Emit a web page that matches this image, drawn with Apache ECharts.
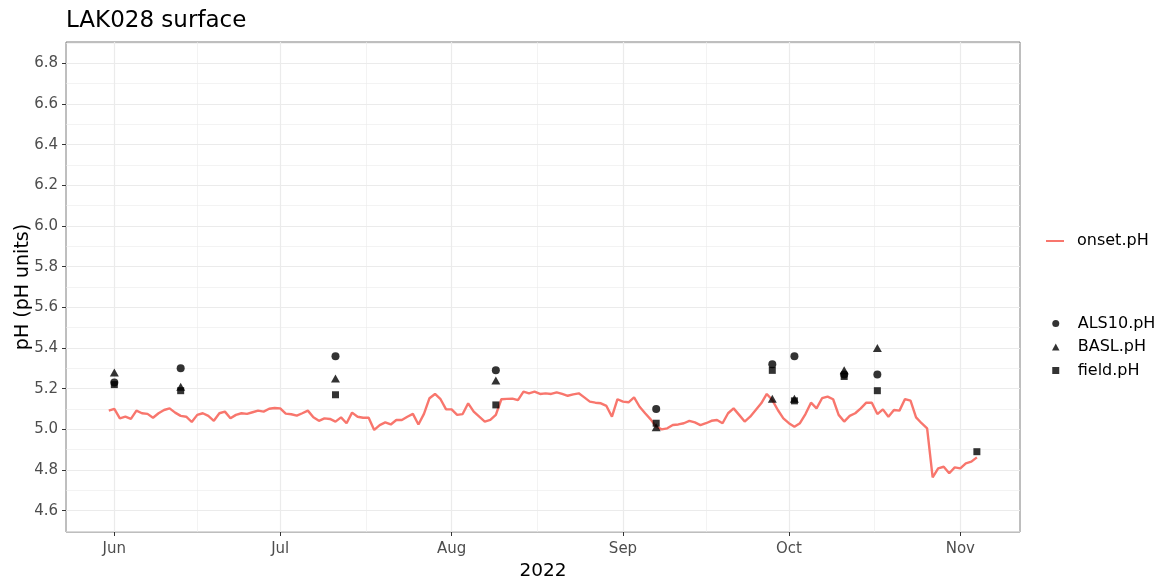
<!DOCTYPE html>
<html>
<head>
<meta charset="utf-8">
<title>LAK028 surface</title>
<script src="https://cdn.jsdelivr.net/npm/echarts@6/dist/echarts.min.js"></script>
<style>
  html, body { margin: 0; padding: 0; background: #ffffff; }
  #chart { width: 1165px; height: 579px; }
</style>
</head>
<body>
<div id="chart"></div>
<script>
// Continuous logger record (one value per day, starting 31 May 2022)
const onsetStart = '2022-05-31';
const onsetPH = [
  5.092,
  // June
  5.101, 5.054, 5.062, 5.051, 5.092, 5.079, 5.076, 5.057, 5.079, 5.095,
  5.103, 5.082, 5.066, 5.062, 5.036, 5.071, 5.079, 5.066, 5.042, 5.079,
  5.087, 5.054, 5.071, 5.079, 5.076, 5.084, 5.092, 5.087, 5.101, 5.105,
  // July
  5.103, 5.077, 5.074, 5.067, 5.079, 5.092, 5.059, 5.042, 5.054, 5.051,
  5.038, 5.059, 5.030, 5.082, 5.062, 5.057, 5.057, 4.997, 5.021, 5.034,
  5.024, 5.046, 5.046, 5.062, 5.076, 5.024, 5.076, 5.153, 5.174, 5.148, 5.098,
  // August
  5.098, 5.071, 5.075, 5.128, 5.087, 5.062, 5.038, 5.046, 5.071, 5.148,
  5.150, 5.151, 5.144, 5.185, 5.177, 5.185, 5.174, 5.177, 5.174, 5.182,
  5.174, 5.165, 5.172, 5.177, 5.157, 5.136, 5.131, 5.128, 5.115, 5.062, 5.148,
  // September
  5.136, 5.133, 5.157, 5.111, 5.079, 5.049, 5.013, 5.000, 5.005, 5.021,
  5.024, 5.030, 5.042, 5.034, 5.021, 5.030, 5.042, 5.046, 5.030, 5.079,
  5.103, 5.071, 5.038, 5.062, 5.095, 5.128, 5.174, 5.144, 5.095, 5.054,
  // October
  5.030, 5.013, 5.030, 5.075, 5.131, 5.103, 5.153, 5.161, 5.148, 5.071,
  5.038, 5.066, 5.079, 5.103, 5.131, 5.131, 5.075, 5.098, 5.062, 5.095,
  5.092, 5.149, 5.141, 5.059, 5.030, 5.005, 4.764, 4.808, 4.816, 4.784, 4.813,
  // November
  4.808, 4.833, 4.841, 4.862
];

// Grab-sample results
const sampleDates = ['2022-06-01', '2022-06-13', '2022-07-11', '2022-08-09', '2022-09-07',
                     '2022-09-28', '2022-10-02', '2022-10-11', '2022-10-17', '2022-11-04'];
const als10PH = [5.23, 5.30, 5.36, 5.29, 5.10, 5.32, 5.36, 5.27, 5.27, null];
const baslPH  = [5.28, 5.21, 5.25, 5.24, 5.01, 5.15, 5.15, 5.29, 5.40, null];
const fieldPH = [5.22, 5.19, 5.17, 5.12, 5.03, 5.29, 5.14, 5.26, 5.19, 4.89];

// Axis breaks
const xTickDates  = ['2022-06-01', '2022-07-01', '2022-08-01', '2022-09-01', '2022-10-01', '2022-11-01'];
const xTickLabels = ['Jun', 'Jul', 'Aug', 'Sep', 'Oct', 'Nov'];
const xMinorDates = ['2022-06-16T00:00', '2022-07-16T12:00', '2022-08-16T12:00', '2022-09-16T00:00', '2022-10-16T12:00'];
const xRange = ['2022-05-23T06:15', '2022-11-11T19:10'];
const yTicks = [4.6, 4.8, 5.0, 5.2, 5.4, 5.6, 5.8, 6.0, 6.2, 6.4, 6.6, 6.8];
const yMinor = [4.5, 4.7, 4.9, 5.1, 5.3, 5.5, 5.7, 5.9, 6.1, 6.3, 6.5, 6.7, 6.9];
const yRange = [4.495, 6.905];

const FONT = 'DejaVu Sans';
const ts = s => new Date(s.length > 10 ? s : s + 'T00:00').getTime();

const dayMs = 86400000;
const onsetData = onsetPH.map((v, i) => [ts(onsetStart) + i * dayMs, v]);
const pts = arr => sampleDates.map((d, i) => [ts(d), arr[i]]).filter(p => p[1] != null);

const tickTimes = xTickDates.map(ts);
const labelFor = v => {
  const i = tickTimes.findIndex(t => Math.abs(t - v) < 3600000 * 2);
  return i >= 0 ? xTickLabels[i] : '';
};

const gridLine = '#EBEBEB';
const legendText = { fontFamily: FONT, fontSize: 16, color: '#000000', lineHeight: 16 };

const chart = echarts.init(document.getElementById('chart'), null, { renderer: 'canvas' });
chart.setOption({
  animation: false,
  backgroundColor: '#ffffff',
  title: {
    text: 'LAK028 surface',
    left: 66, top: 10, padding: 0,
    textStyle: { fontFamily: FONT, fontSize: 23, fontWeight: 'normal', color: '#000000' }
  },
  grid: {
    left: 66, right: 145, top: 42, bottom: 47,
    outerBoundsMode: 'none', containLabel: false,
    show: true, borderColor: '#7f7f7f', borderWidth: 1, backgroundColor: 'transparent'
  },
  legend: [
    {
      orient: 'vertical', left: 1041, top: 228, padding: 5,
      itemWidth: 34, itemHeight: 2,
      data: [{ name: 'onset.pH', icon: 'path://M0,0H18V2H0Z' }],
      textStyle: legendText
    },
    {
      orient: 'vertical', left: 1052, top: 315.5, padding: 0,
      itemWidth: 34, itemHeight: 7, itemGap: 7.5,
      data: [
        { name: 'ALS10.pH', icon: 'circle' },
        { name: 'BASL.pH', icon: 'path://M0,7L3.75,0L7.5,7Z' },
        { name: 'field.pH', icon: 'path://M0,0H6.5V6.5H0Z' }
      ],
      textStyle: legendText
    }
  ],
  xAxis: [
    {
      type: 'value',
      min: ts(xRange[0]), max: ts(xRange[1]),
      name: '2022', nameLocation: 'middle', nameGap: 28,
      nameTextStyle: { fontFamily: FONT, fontSize: 18.5, color: '#000000' },
      axisLine: { show: false },
      axisTick: { show: true, length: 4, customValues: tickTimes, lineStyle: { color: '#333333', width: 1 } },
      axisLabel: {
        customValues: tickTimes, margin: 10,
        fontFamily: FONT, fontSize: 15, color: '#4D4D4D',
        formatter: v => labelFor(v)
      },
      splitLine: { show: true, lineStyle: { color: gridLine, width: 1.2 } }
    },
    {
      type: 'value', gridIndex: 0,
      min: ts(xRange[0]), max: ts(xRange[1]),
      axisLine: { show: false },
      axisTick: { show: false, customValues: xMinorDates.map(ts) },
      axisLabel: { show: false, customValues: xMinorDates.map(ts) },
      splitLine: { show: true, lineStyle: { color: gridLine, width: 0.6 } }
    }
  ],
  yAxis: [
    {
      type: 'value',
      min: yRange[0], max: yRange[1],
      name: 'pH (pH units)', nameLocation: 'middle', nameGap: 33, nameMoveOverlap: false,
      nameTextStyle: { fontFamily: FONT, fontSize: 19, color: '#000000' },
      axisLine: { show: false },
      axisTick: { show: true, length: 4, customValues: yTicks, lineStyle: { color: '#333333', width: 1 } },
      axisLabel: {
        customValues: yTicks, margin: 8,
        fontFamily: FONT, fontSize: 15, color: '#4D4D4D',
        formatter: v => Number(v).toFixed(1)
      },
      splitLine: { show: true, lineStyle: { color: gridLine, width: 1.2 } }
    },
    {
      type: 'value', gridIndex: 0,
      min: yRange[0], max: yRange[1],
      axisLine: { show: false },
      axisTick: { show: false, customValues: yMinor },
      axisLabel: { show: false, customValues: yMinor },
      splitLine: { show: true, lineStyle: { color: gridLine, width: 0.6 } }
    }
  ],
  series: [
    {
      name: 'onset.pH', type: 'line',
      xAxisIndex: 0, yAxisIndex: 0,
      data: onsetData,
      showSymbol: false, symbol: 'none',
      lineStyle: { color: '#F8766D', width: 2.4 },
      itemStyle: { color: '#F8766D' },
      z: 2
    },
    {
      name: 'ALS10.pH', type: 'scatter',
      xAxisIndex: 0, yAxisIndex: 0,
      data: pts(als10PH),
      symbol: 'circle', symbolSize: 8,
      itemStyle: { color: '#000000' }, z: 3
    },
    {
      name: 'BASL.pH', type: 'scatter',
      xAxisIndex: 0, yAxisIndex: 0,
      data: pts(baslPH),
      symbol: 'triangle', symbolSize: [9, 8],
      itemStyle: { color: '#000000' }, z: 3
    },
    {
      name: 'field.pH', type: 'scatter',
      xAxisIndex: 0, yAxisIndex: 0,
      data: pts(fieldPH),
      symbol: 'rect', symbolSize: 7,
      itemStyle: { color: '#000000' }, z: 3
    }
  ]
});
</script>
</body>
</html>
